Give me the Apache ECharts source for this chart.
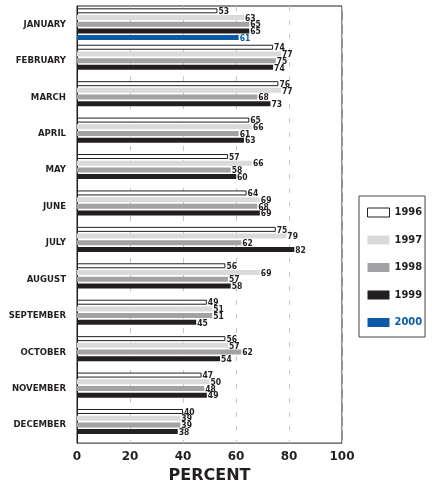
<!DOCTYPE html>
<html><head><meta charset="utf-8">
<script src="https://cdn.jsdelivr.net/npm/echarts@6/dist/echarts.min.js"></script>
<style>html,body{margin:0;padding:0;background:#fff}#c{width:432px;height:489px}</style>
</head><body><div id="c"></div>
<script>
const months = ['JANUARY','FEBRUARY','MARCH','APRIL','MAY','JUNE','JULY','AUGUST','SEPTEMBER','OCTOBER','NOVEMBER','DECEMBER'];
const years = ['1996','1997','1998','1999','2000'];
const v1996 = [53,74,76,65,57,64,75,56,49,56,47,40];
const v1997 = [63,77,77,66,66,69,79,69,51,57,50,39];
const v1998 = [65,75,68,61,58,68,62,57,51,62,48,39];
const v1999 = [65,74,73,63,60,69,82,58,45,54,49,38];
const v2000 = [61,null,null,null,null,null,null,null,null,null,null,null];
const xTicks = [0,20,40,60,80,100];

const dark = '#231f20';
const blue = '#0b5aa6';
const font = '"DejaVu Sans Condensed", "DejaVu Sans", sans-serif';
const wide = '"DejaVu Sans", sans-serif';
const colors = ['#ffffff','#dadada','#a2a2a4',dark,blue];
const vals = [v1996,v1997,v1998,v1999,v2000];

const series = years.map((y,i)=>({
  name: y, type: 'bar', data: vals[i],
  barWidth: 5, barGap: '34%',
  itemStyle: i===0 ? {color:'#ffffff', borderColor: dark, borderWidth: 1} : {color: colors[i]},
  label: {show:true, position:'right', distance:1, fontFamily: font, fontWeight:'bold', fontSize:8.5,
          color: i===4 ? blue : dark, offset:[0,1]},
  emphasis: {disabled:true},
  animation:false
}));

const chart = echarts.init(document.getElementById('c'), null, {renderer:'canvas'});
chart.setOption({
  animation:false,
  grid:{left:77, top:6, width:265, height:446, show:true, borderColor:dark, borderWidth:1, backgroundColor:'transparent'},
  xAxis:{type:'value', min:0, max:100, interval:20,
    axisLine:{show:false}, axisTick:{show:false},
    axisLabel:{fontFamily:wide, fontWeight:'bold', fontSize:12, color:dark, margin:8,
      formatter:(v)=> xTicks.includes(v) ? String(v) : ''},
    splitLine:{show:true, lineStyle:{color:'#c8c8c8', type:[5,9], width:1}},
    name:'PERCENT', nameLocation:'middle', nameGap:24,
    nameTextStyle:{fontFamily:wide, fontWeight:'bold', fontSize:16, color:dark}
  },
  yAxis:{type:'category', data:months, inverse:true,
    axisLine:{show:true, lineStyle:{color:dark, width:1}}, axisTick:{show:false},
    axisLabel:{fontFamily:font, fontWeight:'bold', fontSize:9.5, color:dark, margin:11},
    splitLine:{show:false}
  },
  legend:{orient:'vertical', left:359, top:196, itemWidth:22, itemHeight:9, itemGap:16.5,
    icon:'rect',
    padding:[11,3,9,8], borderColor:'#444', borderWidth:1,
    textStyle:{fontFamily:font, fontWeight:'bold', fontSize:11, color:dark},
    data: years.map((y,i)=>({name:y, itemStyle: i===0 ? {borderWidth:1, borderColor:dark} : {},
      textStyle:{color: i===4?blue:dark}})),
    selectedMode:false
  },
  series
});
</script></body></html>
